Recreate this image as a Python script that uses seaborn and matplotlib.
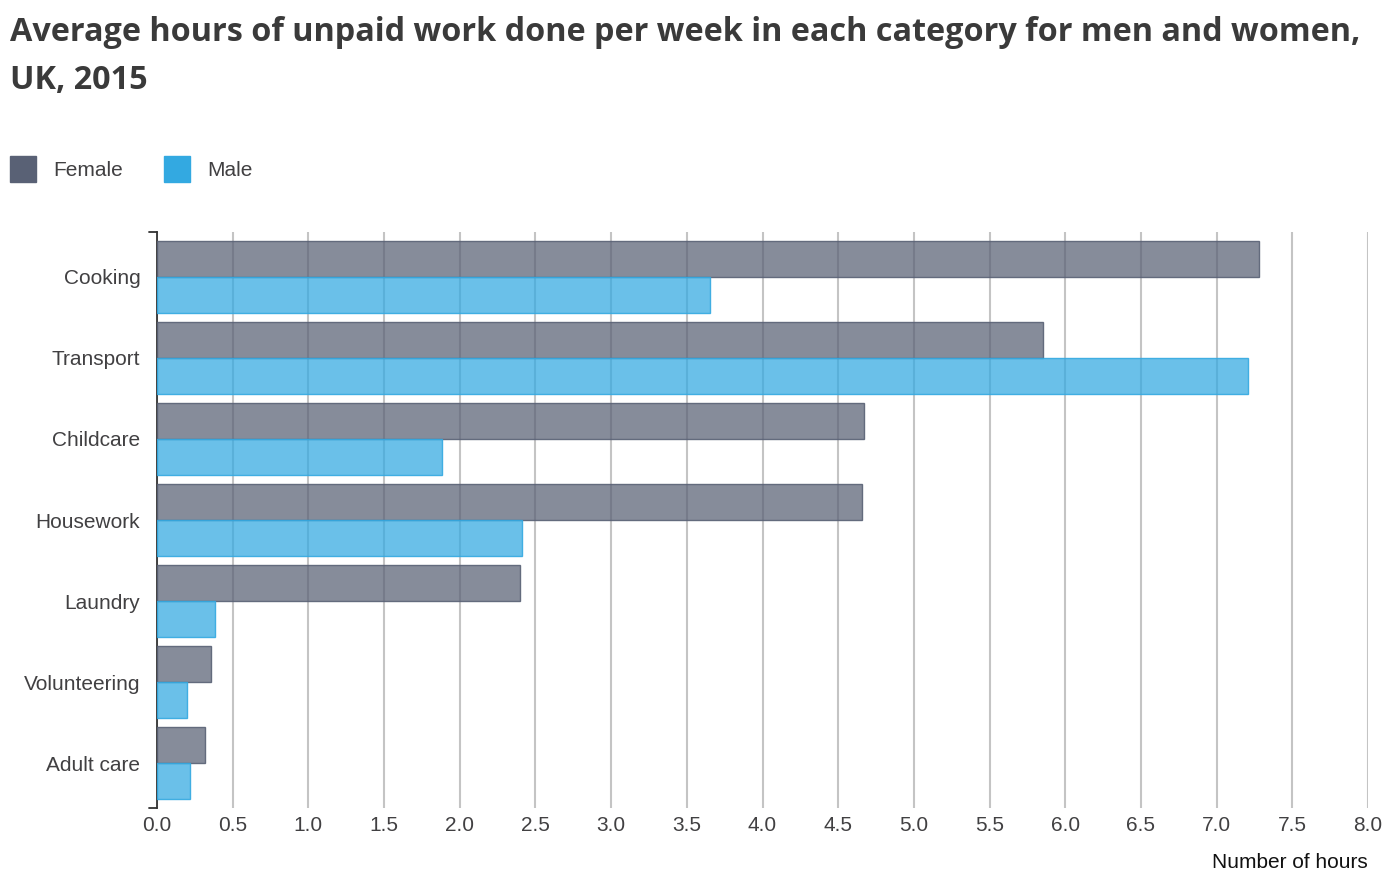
import pandas as pd
import seaborn as sns
import matplotlib.pyplot as plt
from matplotlib.colors import to_rgba
from matplotlib.lines import Line2D

# data (hours per week)
categories = ['Cooking', 'Transport', 'Childcare', 'Housework', 'Laundry', 'Volunteering', 'Adult care']
female = [7.28, 5.85, 4.67, 4.66, 2.40, 0.36, 0.32]
male = [3.65, 7.21, 1.88, 2.41, 0.38, 0.20, 0.22]
x_ticks = [0.0, 0.5, 1.0, 1.5, 2.0, 2.5, 3.0, 3.5, 4.0, 4.5, 5.0, 5.5, 6.0, 6.5, 7.0, 7.5, 8.0]

df = pd.DataFrame({
    'category': categories * 2,
    'hours': female + male,
    'sex': ['Female'] * len(categories) + ['Male'] * len(categories),
})

colors = {'Female': '#596175', 'Male': '#33a9e1'}
text_col = '#414042'

sns.set_theme(style='white')
plt.rcParams['font.family'] = ['Liberation Sans', 'DejaVu Sans']

fig = plt.figure(figsize=(14, 8.76), dpi=100)
ax = fig.add_axes([157 / 1400, 1 - 808 / 876, (1368 - 157) / 1400, (808 - 232) / 876])

sns.barplot(data=df, y='category', x='hours', hue='sex', order=categories,
            hue_order=['Female', 'Male'], palette=colors, width=0.89,
            orient='h', ax=ax, legend=False, zorder=3)

# semi transparent faces, solid edges
for bars, key in zip(ax.containers, ['Female', 'Male']):
    for p in bars:
        p.set_facecolor(to_rgba(colors[key], 0.73))
        p.set_edgecolor(to_rgba(colors[key], 0.9))
        p.set_linewidth(1)

ax.set_xlim(0, 8.0)
ax.set_ylim(6.55, -0.55)
ax.set_xticks(x_ticks)
ax.set_xticklabels([f'{t:.1f}' for t in x_ticks])
ax.grid(True, axis='x', color='#c4c4c4', linewidth=1.5, zorder=0)
ax.set_axisbelow(True)
ax.tick_params(axis='both', length=0, labelsize=15, labelcolor=text_col)
ax.tick_params(axis='y', pad=12)
ax.tick_params(axis='x', pad=6)
ax.set_xlabel('')
ax.set_ylabel('')

for s in ['top', 'right', 'bottom']:
    ax.spines[s].set_visible(False)
ax.spines['left'].set_color('#333333')
ax.spines['left'].set_linewidth(1.3)
# little caps at the ends of the y axis
for yy in [0, 1]:
    ax.plot([-0.007, 0], [yy, yy], transform=ax.transAxes, color='#333333',
            lw=1.3, clip_on=False)

fig.text(1368 / 1400, 1 - 863 / 876, 'Number of hours', ha='right', va='center',
         fontsize=15, color='#111111')

fig.text(10 / 1400, 1 - 16 / 876,
         'Average hours of unpaid work done per week in each category for men and women,\nUK, 2015',
         ha='left', va='top', fontsize=23.3, fontweight='bold', color='#3a3a3a',
         family=['Open Sans', 'DejaVu Sans'], linespacing=1.6)

handles = [Line2D([], [], marker='s', linestyle='', markersize=18.5,
                  markerfacecolor=colors[k], markeredgecolor=colors[k]) for k in ['Female', 'Male']]
fig.legend(handles, ['Female', 'Male'], loc='center left',
           bbox_to_anchor=(0.0, 1 - 171 / 876), ncol=2, frameon=False,
           fontsize=15, labelcolor=text_col, handletextpad=0.75,
           columnspacing=1.9, borderaxespad=0, handlelength=1.4)

fig.savefig('out.png', dpi=100)
